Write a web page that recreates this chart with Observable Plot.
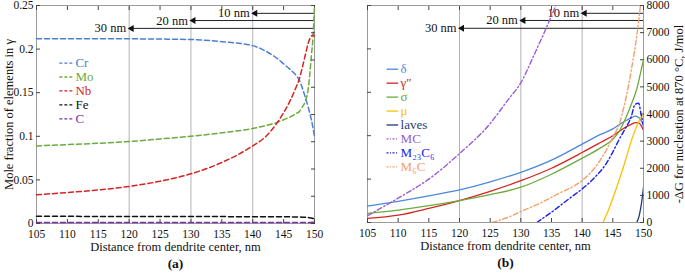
<!DOCTYPE html>
<html><head><meta charset="utf-8">
<script src="https://cdn.jsdelivr.net/npm/d3@7"></script>
<script src="https://cdn.jsdelivr.net/npm/@observablehq/plot@0.6"></script>
<style>
body{margin:0;background:#fff;}
#wrap{position:relative;width:685px;height:274px;background:#fff;}
#wrap svg{position:absolute;top:0;font-family:"Liberation Serif","Times New Roman",serif !important;}
#wrap svg text, #wrap svg g{font-family:"Liberation Serif","Times New Roman",serif !important;}
</style></head><body><div id="wrap"></div>
<script>
// ---------- Panel (a): mole fraction of elements in gamma ----------
const dist = [105,110,115,120,125,130,135,140,142,144,145,146,147,147.5,148,148.5,149,149.25,149.5,149.75,150];
const cr = [.212,.212,.212,.2118,.2115,.211,.2085,.204,.198,.189,.183,.177,.17,.165,.156,.145,.133,.126,.119,.11,.1];
const mo = [.089,.0905,.092,.094,.097,.100,.104,.109,.112,.116,.119,.122,.126,.128,.133,.140,.155,.172,.193,.213,.25];
const nb = [.033,.0355,.0385,.0425,.0485,.057,.07,.089,.099,.116,.127,.14,.156,.165,.178,.193,.207,.212,.215,.216,.215];
const fe = [.0082,.0082,.0081,.0081,.008,.008,.0079,.0078,.0078,.0077,.0077,.0076,.0075,.0074,.0073,.0071,.0068,.0065,.0062,.0058,.0053];
const cc = [.0012,.0012,.0012,.0012,.0012,.0012,.0012,.0012,.0012,.0012,.0012,.0012,.0012,.0012,.0012,.0012,.0012,.0012,.0013,.0014,.0018];
const elements = ["Cr","Mo","Nb","Fe","C"];
const elementValues = [cr, mo, nb, fe, cc];
const elementColors = ["#4a7fd4","#6cab3c","#d42424","#111111","#7433a8"];

// ---------- Panel (b): -ΔG for nucleation at 870 °C ----------
const deltaX = [105,110,115,120,125,130,135,140,143,145,146,147,148,148.7,149.3,150];
const delta  = [600,780,980,1200,1500,1850,2300,2890,3250,3450,3600,3740,3860,3920,3850,3600];
const gammaX = [105,110,115,120,125,130,135,140,143,145,146,147,148,148.5,149.1,149.6,150];
const gamma  = [150,270,520,810,1150,1540,2000,2580,2950,3200,3350,3500,3620,3670,3680,3580,3400];
const sigmaX = [105,110,115,120,125,130,135,140,143,145,146,147,148,149,149.5,150];
const sigma  = [340,460,620,810,1030,1300,1780,2370,2750,3070,3350,3800,4350,5000,5500,6000];
const muX    = [143.4,144,145,146,147,148,149,149.5,150];
const mu     = [0,300,900,1550,2250,3000,3600,3850,3950];
const lavesX = [148.9,149.3,149.6,150];
const laves  = [0,250,600,1300];
const mcX    = [105,108.5,110,115,120,125,128,130,132,134,136];
const mc     = [250,700,900,1600,2540,3650,4550,5150,6100,7100,8150];
const m23X   = [132.6,135,138,140,142,144,145,146,147,148,148.6,149.2,149.6,150];
const m23    = [0,380,900,1240,1650,2200,2600,3050,3450,3900,4350,4400,4000,3550];
const m6X    = [125.3,128,130,133,136,140,142,144,145,146,147,148,149,149.5];
const m6     = [0,200,400,700,1050,1550,2000,2700,3150,3600,4450,5600,7050,8000];
const phases = ["δ","γ″","σ","μ","laves","MC","M₂₃C₆","M₆C"];
const phaseX = [deltaX, gammaX, sigmaX, muX, lavesX, mcX, m23X, m6X];
const phaseValues = [delta, gamma, sigma, mu, laves, mc, m23, m6];
const phaseColors = ["#4a8ad8","#d42424","#6cab3c","#ffc000","#1f3a78","#9a5bd6","#1c1cee","#f4a06a"];
const phaseDashed = [false,false,false,false,false,true,true,true];

// ---------- annotations ----------
const arrowLabels = ["10 nm","20 nm","30 nm"];
const arrowFrom = [140,130,120];
const xTitle = "Distance from dendrite center, nm";

const FONT = "Liberation Serif";
const xTicks = d3.range(105, 151, 5);

function common(xDom, yDom) {
  const yMax = yDom[1];
  const fr = [0.964, 0.931, 0.895];
  const arrows = arrowLabels.map((label, i) => ({label, from: arrowFrom[i], to: xDom[1], y: yMax * fr[i]}));
  return [
    Plot.ruleX(arrowFrom, {stroke: "#b4b4b4", strokeWidth: 1}),
    Plot.link(arrows, {x1: "to", x2: "from", y1: "y", y2: "y", stroke: "#222", strokeWidth: 1}),
    Plot.dot(arrows, {x: "from", y: "y", symbol: "triangle", rotate: -90, r: 2.6, fill: "#111", stroke: null, dx: 2.5}),
    Plot.text(arrows, {x: "from", y: "y", text: "label", textAnchor: "end", dx: -3, fontSize: 12.5, fontFamily: FONT, fill: "#111"}),
    Plot.frame({stroke: "#9a9a9a"}),
    Plot.axisX({anchor: "bottom", ticks: xTicks, tickSize: 4, dy: -4, tickPadding: 6, fontSize: 11.5, fontFamily: FONT, fontVariant: "normal", label: null, stroke: "#444"}),
    Plot.axisX({anchor: "top", ticks: xTicks, tickSize: 4, dy: 4, tickFormat: () => "", label: null, stroke: "#444"}),
    Plot.text([xTitle], {frameAnchor: "bottom", dy: 27, fontSize: 12.5, fontFamily: FONT, fill: "#111"})
  ];
}

// Panel (a)
const legA = elements.map((name, i) => ({name, color: elementColors[i], y: 0.184 - 0.016 * i}));
const marksA = [...common([105,150],[0,0.25])];
elements.forEach((name, k) => {
  marksA.push(Plot.line(dist, {x: d => d, y: (d, i) => elementValues[k][i], stroke: elementColors[k], strokeWidth: 1.5, strokeDasharray: "5,3", curve: "monotone-x"}));
});
marksA.push(
  Plot.axisY({anchor: "left", ticks: d3.range(0, 0.2501, 0.05), tickSize: 4, dx: 4, tickPadding: 3, tickFormat: d => String(+d.toFixed(2)), fontSize: 11.5, fontFamily: FONT, fontVariant: "normal", label: null, stroke: "#444"}),
  Plot.axisY({anchor: "right", ticks: d3.range(0, 0.2501, 0.03125), tickSize: 4, dx: -4, tickFormat: () => "", label: null, stroke: "#444"}),
  Plot.text(["Mole fraction of elements in γ"], {frameAnchor: "left", textAnchor: "middle", rotate: -90, dx: -28, fontSize: 12.5, fontFamily: FONT, fill: "#111"}),
  Plot.text(["(a)"], {frameAnchor: "bottom", textAnchor: "middle", dy: 44, fontSize: 13.5, fontFamily: FONT, fontWeight: "bold", fill: "#111"})
);
legA.forEach(d => {
  marksA.push(Plot.link([d], {x1: () => 108.7, x2: () => 111.0, y1: "y", y2: "y", stroke: d.color, strokeWidth: 1.3, strokeDasharray: "3,2"}));
});
marksA.push(Plot.text(legA, {x: () => 111.3, y: "y", text: "name", fill: d => d.color, textAnchor: "start", fontSize: 13, fontFamily: FONT}));

const plotA = Plot.plot({
  width: 340, height: 274, marginLeft: 36, marginRight: 26, marginTop: 5, marginBottom: 51,
  x: {domain: [105,150]}, y: {domain: [0,0.25]}, color: {type: "identity"},
  style: {fontFamily: FONT, fontSize: "11px", background: "#fff", overflow: "visible", color: "#111"},
  marks: marksA
});

// Panel (b)
const legB = phases.map((name, i) => ({name, color: phaseColors[i], dashed: phaseDashed[i], y: 5651 - 514 * i}));
const marksB = [...common([105,150],[0,8000])];
phases.forEach((name, k) => {
  marksB.push(Plot.line(phaseX[k], {x: d => d, y: (d, i) => phaseValues[k][i], stroke: phaseColors[k], strokeWidth: phaseDashed[k] ? 1.4 : 1.3,
    strokeDasharray: phaseDashed[k] ? "5,2.5,1.3,2.5" : null, curve: "monotone-x", clip: true}));
});
marksB.push(
  Plot.axisY({anchor: "right", ticks: d3.range(0, 8001, 1000), tickSize: 4, dx: -4, tickPadding: 3, tickFormat: d3.format("d"), fontSize: 11.5, fontFamily: FONT, fontVariant: "normal", label: null, stroke: "#444"}),
  Plot.axisY({anchor: "left", ticks: d3.range(0, 8001, 1600), tickSize: 4, dx: 4, tickFormat: () => "", label: null, stroke: "#444"}),
  Plot.text(["-ΔG for nucleation at 870 °C, J/mol"], {frameAnchor: "right", textAnchor: "middle", rotate: -90, dx: 35, fontSize: 12.5, fontFamily: FONT, fill: "#111"}),
  Plot.text(["(b)"], {frameAnchor: "bottom", textAnchor: "middle", dy: 44, fontSize: 13.5, fontFamily: FONT, fontWeight: "bold", fill: "#111"})
);
legB.forEach(d => {
  marksB.push(Plot.link([d], {x1: () => 108.1, x2: () => 110.0, y1: "y", y2: "y", stroke: d.color, strokeWidth: 1.3, strokeDasharray: d.dashed ? "2,1.5,1,1.5" : null}));
});
marksB.push(Plot.text(legB, {x: () => 110.4, y: "y", text: "name", fill: d => d.color, textAnchor: "start", fontSize: 13, fontFamily: FONT}));

const plotB = Plot.plot({
  width: 345, height: 274, marginLeft: 27, marginRight: 42, marginTop: 5, marginBottom: 52,
  x: {domain: [105,150]}, y: {domain: [0,8000]}, color: {type: "identity"},
  style: {fontFamily: FONT, fontSize: "11px", background: "#fff", overflow: "visible", color: "#111"},
  marks: marksB
});

const wrap = document.getElementById("wrap");
plotA.style.left = "0px";
plotB.style.left = "340px";
wrap.appendChild(plotA);
wrap.appendChild(plotB);
wrap.querySelectorAll("text, tspan").forEach(t => {
  t.style.setProperty("font-family", "'Liberation Serif', serif", "important");
  t.style.setProperty("font-variant-numeric", "normal", "important");
});
</script></body></html>
